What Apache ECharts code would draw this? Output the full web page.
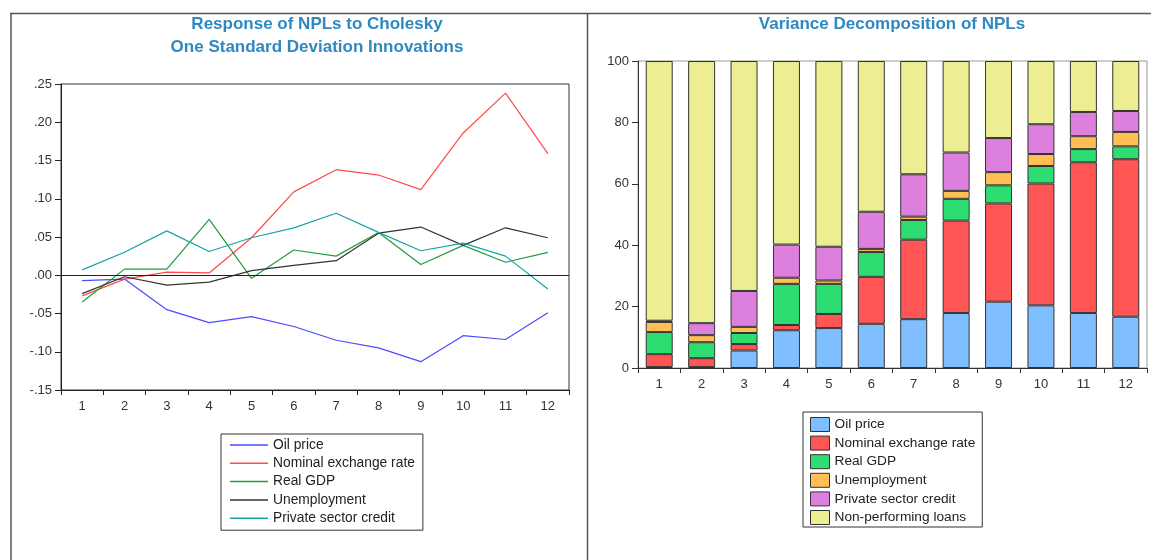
<!DOCTYPE html>
<html>
<head>
<meta charset="utf-8">
<script src="https://cdn.jsdelivr.net/npm/echarts@6/dist/echarts.min.js"></script>
<style>
html,body{margin:0;padding:0;background:#fff;}
#c{width:1151px;height:560px;}
</style>
</head>
<body>
<div id="c"></div>
<script>
// ---- Data ----
const periods = ['1','2','3','4','5','6','7','8','9','10','11','12'];

// Impulse responses (left panel)
const irfOil   = [-0.007,-0.005,-0.045,-0.062,-0.054,-0.067,-0.085,-0.095,-0.113,-0.079,-0.084,-0.049];
const irfNER   = [-0.027,-0.005,0.004,0.003,0.049,0.109,0.138,0.131,0.112,0.186,0.238,0.159];
const irfGDP   = [-0.035,0.008,0.008,0.073,-0.004,0.033,0.025,0.056,0.014,0.039,0.017,0.030];
const irfUnemp = [-0.024,-0.002,-0.013,-0.009,0.006,0.013,0.019,0.055,0.063,0.039,0.062,0.049];
const irfPSC   = [0.007,0.030,0.058,0.031,0.049,0.062,0.081,0.056,0.032,0.042,0.025,-0.018];

// Variance decomposition (right panel, percent)
const vdOil   = [0.3,0.3,5.7,12.3,13.0,14.4,15.9,17.9,21.6,20.4,17.9,16.7];
const vdNER   = [4.2,2.9,2.1,1.7,4.6,15.3,25.9,30.1,32.0,39.7,49.1,51.3];
const vdGDP   = [7.2,5.2,3.6,13.4,9.8,8.1,6.4,7.1,5.9,5.7,4.3,4.2];
const vdUnemp = [3.3,2.3,2.0,2.0,1.1,1.0,1.1,2.6,4.3,3.9,4.2,4.7];
const vdPSC   = [0.4,3.9,11.7,10.8,11.0,12.1,13.8,12.5,11.1,9.7,7.9,6.8];
const vdNPL   = [84.6,85.4,74.9,59.8,60.5,49.1,36.9,29.8,25.1,20.6,16.6,16.3];

const lineNames = ['Oil price','Nominal exchange rate','Real GDP','Unemployment','Private sector credit'];
const barNames  = ['Oil price','Nominal exchange rate','Real GDP','Unemployment','Private sector credit','Non-performing loans'];

// ---- Chart ----
const FONT = 'Arial, "Liberation Sans", sans-serif';
const lineColors = ['#4b4bff','#ff4a4a','#1f9e3e','#333333','#19a3a6'];
const barColors  = ['#80bfff','#ff5555','#2edd72','#ffbf55','#dd80dd','#eded91'];
const lineData = [irfOil, irfNER, irfGDP, irfUnemp, irfPSC];
const barData  = [vdOil, vdNER, vdGDP, vdUnemp, vdPSC, vdNPL];

const chart = echarts.init(document.getElementById('c'), null, {renderer:'canvas'});

const series = [];
lineData.forEach((d,i)=>{
  const s = {
    type:'line', name:lineNames[i], xAxisIndex:0, yAxisIndex:0,
    data:d, symbol:'none', smooth:false,
    lineStyle:{color:lineColors[i], width:1.2}, itemStyle:{color:lineColors[i]},
    silent:true, animation:false, z: 3
  };
  if(i===0){
    s.markLine = {silent:true, symbol:['none','none'], label:{show:false},
      lineStyle:{color:'#222', width:1.2, type:'solid'}, data:[{yAxis:0}], animation:false};
  }
  series.push(s);
});
barData.forEach((d,i)=>{
  series.push({
    type:'bar', name:barNames[i], xAxisIndex:1, yAxisIndex:1, stack:'vd',
    data:d, barWidth:27,
    itemStyle:{color:barColors[i], borderColor:'#333', borderWidth:1},
    silent:true, animation:false
  });
});

const axisLabelStyle = {color:'#333', fontSize:13, fontFamily:FONT};

const option = {
  animation:false,
  textStyle:{fontFamily:FONT},
  title:[
    {text:'Response of NPLs to Cholesky\nOne Standard Deviation Innovations', left:312, top:8, textAlign:'center',
     textStyle:{color:'#2f88c0', fontSize:17, fontWeight:'bold', fontFamily:FONT, lineHeight:23}},
    {text:'Variance Decomposition of NPLs', left:887, top:8, textAlign:'center',
     textStyle:{color:'#2f88c0', fontSize:17, fontWeight:'bold', fontFamily:FONT, lineHeight:23}}
  ],
  grid:[
    {left:61, top:84, width:508, height:306, show:true, borderColor:'#333', borderWidth:1, containLabel:false},
    {left:638, top:61, width:509, height:307, show:true, borderColor:'#999', borderWidth:1, containLabel:false}
  ],
  xAxis:[
    {type:'category', gridIndex:0, data:periods, boundaryGap:true,
     axisLine:{onZero:false, lineStyle:{color:'#222', width:1}}, axisTick:{show:true, inside:false, length:5, lineStyle:{color:'#222'}},
     axisLabel:Object.assign({margin:10, interval:0}, axisLabelStyle), splitLine:{show:false}},
    {type:'category', gridIndex:1, data:periods, boundaryGap:true,
     axisLine:{onZero:false, lineStyle:{color:'#333', width:1}}, axisTick:{show:true, inside:false, length:5, lineStyle:{color:'#333'}},
     axisLabel:Object.assign({margin:10, interval:0}, axisLabelStyle), splitLine:{show:false}}
  ],
  yAxis:[
    {type:'value', gridIndex:0, min:-0.15, max:0.25, interval:0.05,
     axisLine:{show:true, onZero:false, lineStyle:{color:'#222', width:1}}, axisTick:{show:true, length:6, lineStyle:{color:'#222'}},
     axisLabel:Object.assign({margin:9, formatter:v=>v.toFixed(2).replace('0.','.')}, axisLabelStyle),
     splitLine:{show:false}},
    {type:'value', gridIndex:1, min:0, max:100, interval:20,
     axisLine:{show:true, onZero:false, lineStyle:{color:'#333', width:1}}, axisTick:{show:true, length:6, lineStyle:{color:'#333'}},
     axisLabel:Object.assign({margin:9}, axisLabelStyle),
     splitLine:{show:false}}
  ],
  legend:[
    {data:lineNames, orient:'vertical', left:221, top:434, icon:'rect', itemWidth:38, itemHeight:1.5, itemGap:2.3,
     padding:[3,8,4,9], borderColor:'#333', borderWidth:1, selectedMode:false,
     textStyle:{color:'#222', fontSize:13.8, fontFamily:FONT, lineHeight:16}},
    {data:barNames.map((n,i)=>({name:n, itemStyle:{color:barColors[i], borderColor:'#333', borderWidth:1}})),
     orient:'vertical', left:803, top:412, icon:'rect', itemWidth:19, itemHeight:14, itemGap:3.6,
     padding:[5,7,2,7], borderColor:'#333', borderWidth:1, selectedMode:false,
     textStyle:{color:'#222', fontSize:13.7, fontFamily:FONT, lineHeight:14}}
  ],
  graphic:[
    {type:'line', shape:{x1:10, y1:13.5, x2:1151, y2:13.5}, style:{stroke:'#555', lineWidth:1.5}, silent:true},
    {type:'line', shape:{x1:11, y1:13, x2:11, y2:560}, style:{stroke:'#555', lineWidth:1.5}, silent:true},
    {type:'line', shape:{x1:587.5, y1:13, x2:587.5, y2:560}, style:{stroke:'#555', lineWidth:1.5}, silent:true}
  ],
  series:series
};
chart.setOption(option);
</script>
</body>
</html>
